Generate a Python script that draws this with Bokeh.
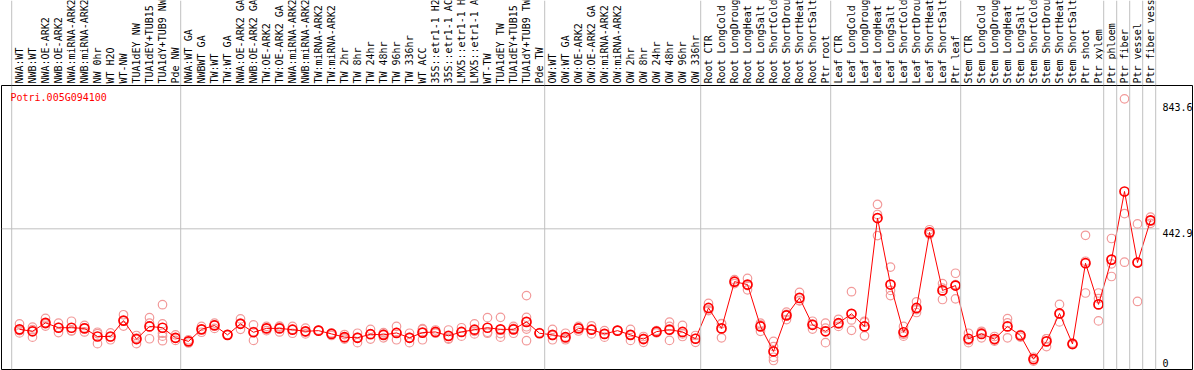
import math
from bokeh.plotting import figure
from bokeh.layouts import column
from bokeh.models import Range1d, Span, Label
from bokeh.core.properties import value
from bokeh.embed import file_html
from bokeh.resources import INLINE

# ---------------- data ----------------
gene = "Potri.005G094100"

labels = [
    "NWA:WT", "NWB:WT", "NWA:OE-ARK2", "NWB:OE-ARK2", "NWA:miRNA-ARK2", "NWB:miRNA-ARK2",
    "NW 0hr", "WT H2O", "WT-NW", "TUA1dEY NW", "TUA1dEY+TUB15", "TUA1dY+TUB9 NW", "Pde NW",
    "NWA:WT GA", "NWBWT GA", "TW:WT", "TW:WT GA", "NWA:OE-ARK2 GA", "NWB:OE-ARK2 GA",
    "TW:OE-ARK2", "TW:OE-ARK2 GA", "NWA:miRNA-ARK2", "NWB:miRNA-ARK2", "TW:miRNA-ARK2",
    "TW:miRNA-ARK2", "TW 2hr", "TW 8hr", "TW 24hr", "TW 48hr", "TW 96hr", "TW 336hr",
    "WT ACC", "35S::etr1-1 H2", "35S::etr1-1 AC", "LMX5::etr1-1 H", "LMX5::etr1-1 A",
    "WT-TW", "TUA1dEY TW", "TUA1dEY+TUB15", "TUA1dY+TUB9 TW", "Pde TW",
    "OW:WT", "OW:WT GA", "OW:OE-ARK2", "OW:OE-ARK2 GA", "OW:miRNA-ARK2", "OW:miRNA-ARK2",
    "OW 2hr", "OW 8hr", "OW 24hr", "OW 48hr", "OW 96hr", "OW 336hr",
    "Root CTR", "Root LongCold", "Root LongDroug", "Root LongHeat", "Root LongSalt",
    "Root ShortCold", "Root ShortDrou", "Root ShortHeat", "Root ShortSalt", "Ptr root",
    "Leaf CTR", "Leaf LongCold", "Leaf LongDroug", "Leaf LongHeat", "Leaf LongSalt",
    "Leaf ShortCold", "Leaf ShortDrou", "Leaf ShortHeat", "Leaf ShortSalt", "Ptr leaf",
    "Stem CTR", "Stem LongCold", "Stem LongDroug", "Stem LongHeat", "Stem LongSalt",
    "Stem ShortCold", "Stem ShortDrou", "Stem ShortHeat", "Stem ShortSalt",
    "Ptr shoot", "Ptr xylem", "Ptr phloem", "Ptr fiber", "Ptr vessel", "Ptr fiber vess",
]

means = [
    133, 127, 153, 138, 138, 136, 111, 111, 160, 103, 142, 138, 107,
    96, 133, 145, 116, 150, 124, 136, 136, 132, 127, 129, 119, 109, 107, 118, 116, 122,
    107, 123, 125, 113, 125, 132, 138, 133, 133, 156, 121,
    116, 109, 136, 132, 119, 129, 116, 103, 126, 132, 125, 104,
    199, 136, 280, 271, 142, 65, 176, 230, 147, 127,
    152, 181, 142, 476, 271, 124, 199, 432, 253, 268,
    104, 119, 103, 142, 114, 41, 96, 182, 88, 337, 210,
    348, 558, 339, 469,
]

replicates = [
    [150, 129, 122], [140, 109, 132], [167, 143, 150], [152, 123, 139], [158, 128, 129],
    [145, 125, 138], [124, 89, 120], [122, 101, 110], [178, 143, 159], [114, 89, 106],
    [169, 104, 152], [209, 150, 121, 98, 112], [116, 99, 106],
    [101, 91, 96], [142, 124, 133], [147, 136, 152], [116, 117], [165, 133, 152],
    [147, 99, 126], [142, 129, 137], [143, 125, 140], [142, 121, 133], [137, 119, 125],
    [129, 131], [122, 114, 121], [117, 103, 107], [121, 92, 108], [133, 103, 118],
    [123, 107, 118], [142, 101, 123], [121, 92, 108], [133, 101, 135], [131, 121, 123],
    [131, 103, 105], [138, 112, 125], [150, 119, 127], [169, 121, 124], [170, 109, 120],
    [142, 121, 136], [237, 170, 134, 98, 141], [121, 123],
    [133, 101, 114], [121, 101, 105], [142, 128, 138], [144, 119, 133], [129, 109, 119],
    [129, 130], [133, 99, 116], [111, 93, 105], [127, 122, 129], [155, 99, 142],
    [145, 111, 119], [114, 93, 105],
    [213, 191, 193], [150, 107, 151], [274, 286, 280], [290, 255, 268], [152, 127, 147],
    [96, 47, 37, 80], [186, 163, 179], [247, 222, 221], [158, 134, 149], [152, 92, 137],
    [164, 142, 150], [249, 162, 130], [158, 113, 155], [518, 487, 422], [325, 253, 237],
    [142, 118, 112], [218, 185, 194], [440, 426, 430], [274, 225, 260], [306, 227, 271],
    [121, 92, 99], [127, 107, 123], [111, 97, 101], [166, 107, 153], [117, 109, 116],
    [47, 35, 41], [104, 80, 104], [210, 156, 180], [91, 86, 87], [423, 245, 343],
    [245, 228, 159],
    [413, 335, 296], [843.6, 490, 340], [458, 219, 340], [479, 460, 468],
]

group_starts = [0, 13, 41, 53, 63, 73, 84, 85, 86, 87, 88]
y_ticks = [0, 442.9, 843.6]

# ---------------- layout / style ----------------
W = 1194
TOP_H = 85
PLOT_H = 284
B_LEFT, B_RIGHT, B_BOTTOM = 1, 2, 1
STEP = 13.0          # px per sample
FIRST = 18.0         # px from frame left edge to first sample
PX_PER_UNIT = 0.3244
ZERO_BELOW = 3.0     # px below the frame bottom where value 0 sits
SEP_SHIFT = 0.6      # separator sits this far (in samples) before a group start
GRID_END_PX = 1159   # horizontal grid line stops before the tick labels
TICK_X_PX = 1162
TICK_SHIFT = [10, -4, -8]   # label y-offset (px, up positive)
LABEL_BASE = 2       # px above bottom of label strip
FONT = "DejaVu Sans Mono"
FS = "10px"
REP_COLOR = "#f29a9a"
MEAN_COLOR = "#ff0000"
SEP_COLOR = "#c0c0c0"

frame_w = W - B_LEFT - B_RIGHT
x_start = -FIRST / STEP
x_end = x_start + frame_w / STEP
xr = Range1d(x_start, x_end)
y_lo = ZERO_BELOW / PX_PER_UNIT
yr = Range1d(y_lo, y_lo + PLOT_H / PX_PER_UNIT)

idx = list(range(len(labels)))
seps = [g - SEP_SHIFT for g in group_starts]


def base_fig(h, y_range, outline, bottom=0):
    f = figure(width=W, height=h + bottom, x_range=xr, y_range=y_range,
               x_axis_location=None, y_axis_location=None,
               toolbar_location=None, output_backend="svg",
               min_border=0, min_border_left=B_LEFT, min_border_right=B_RIGHT,
               min_border_top=0, min_border_bottom=bottom,
               outline_line_color=outline, background_fill_color="white",
               border_fill_color="white")
    f.grid.visible = False
    for s in seps:
        f.add_layout(Span(location=s, dimension="height",
                          line_color=SEP_COLOR, line_width=1))
    return f


# label strip
top = base_fig(TOP_H, Range1d(0, TOP_H), None)
top.text(x=idx, y=[LABEL_BASE] * len(idx), text=labels, angle=math.pi / 2,
         text_align="left", text_baseline="middle",
         text_font=value(FONT), text_font_size=FS, text_color="black")

# plot area
p = base_fig(PLOT_H, yr, "black", B_BOTTOM)
p.outline_line_width = 1

p.segment(x0=[x_start], y0=[y_ticks[1]], x1=[x_start + (GRID_END_PX - B_LEFT) / STEP],
          y1=[y_ticks[1]], line_color=SEP_COLOR, line_width=1)

rx = [i for i, reps in enumerate(replicates) for _ in reps]
ry = [v for reps in replicates for v in reps]
p.scatter(rx, ry, marker="circle", size=8.5, fill_color=None,
          line_color=REP_COLOR, line_width=1.2)
p.line(idx, means, line_color=MEAN_COLOR, line_width=1)
p.scatter(idx, means, marker="circle", size=9, fill_color=None,
          line_color=MEAN_COLOR, line_width=1.7)

p.add_layout(Label(x=9, y=PLOT_H - 12, x_units="screen", y_units="screen",
                   text=gene, text_baseline="middle", text_color="red",
                   text_font=FONT, text_font_size=FS))

for t, off in zip(y_ticks, TICK_SHIFT):
    p.add_layout(Label(x=TICK_X_PX - B_LEFT, y=t, x_units="screen", y_units="data",
                       y_offset=off, text=f"{t:g}", text_baseline="middle",
                       text_color="black", text_font=FONT, text_font_size=FS))

layout = column(top, p, spacing=0)

open("out.html", "w").write(file_html(layout, INLINE))
